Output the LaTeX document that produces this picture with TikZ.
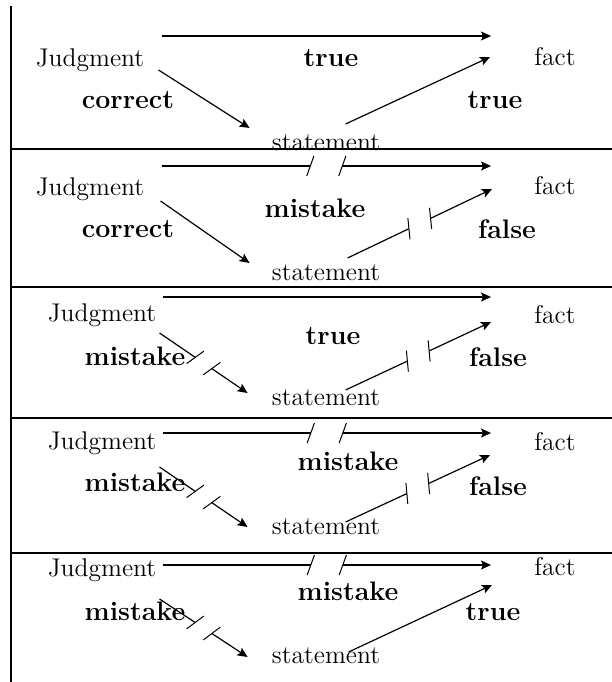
\documentclass[tikz,border=0pt]{standalone}
\usepackage{tikz}
\usetikzlibrary{arrows.meta, calc, decorations.markings}
\tikzstyle{word} = [inner sep=0pt, anchor=base, font=\fontsize{12.8}{15}\selectfont]
\tikzstyle{value} = [word, font=\fontsize{13.4}{15}\selectfont\bfseries]
\tikzstyle{arrow} = [line width=0.6pt, -{Stealth[length=5pt, width=4.5pt, inset=1pt]}]
\tikzstyle{rule} = [line width=0.6pt]
\tikzset{cut/.style={postaction={decorate}, decoration={markings, mark=at position 0.5 with {
  \fill [white] (-#1,-2pt) rectangle (#1,2pt);
  \draw [-, line width=0.5pt] (-#1-1.8pt,-5pt) -- (-#1+1.8pt,5pt);
  \draw [-, line width=0.5pt] (#1-1.8pt,-5pt) -- (#1+1.8pt,5pt);}}}}

\begin{document}
\begin{tikzpicture}[x=0.5pt, y=-0.5pt]
\useasboundingbox (0,0) rectangle (612,682);

% frame
\draw [rule] (11,6) -- (11,682);
\draw [rule] (11,149) -- (612,149);
\draw [rule] (11,287) -- (612,287);
\draw [rule] (11,418) -- (612,418);
\draw [rule] (11,553) -- (612,553);

% correct judgment, true statement
\node (j1) [word] at (90,66) {Judgment};
\node (v1) [value] at (331,66) {true};
\node (f1) [word] at (555,65) {fact};
\node (c1) [value] at (128,108) {correct};
\node (s1) [word] at (326,150) {statement};
\node (r1) [value] at (495,108) {true};

\draw [arrow] ($(j1.base east)+(17,-30)$) -- ($(f1.base west)+(-43,-29)$);
\draw [arrow] ($(j1.base east)+(14,4)$) -- ($(s1.base west)+(-22,-22)$);
\draw [arrow] ($(s1.base west)+(74,-26)$) -- ($(f1.base west)+(-44,-8)$);

% correct judgment, false statement
\node (j2) [word] at (90,195) {Judgment};
\node (v2) [value] at (315,217) {mistake};
\node (f2) [word] at (555,194) {fact};
\node (c2) [value] at (128,237) {correct};
\node (s2) [word] at (326,280) {statement};
\node (r2) [value] at (507,238) {false};

\draw [arrow, cut=8pt] ($(j2.base east)+(17,-29)$) -- ($(f2.base west)+(-43,-28)$);
\draw [arrow] ($(j2.base east)+(16,6)$) -- ($(s2.base west)+(-22,-17)$);
\draw [arrow, cut=6pt] ($(s2.base west)+(76,-22)$) -- ($(f2.base west)+(-42,-5)$);

% mistaken judgment, true relation
\node (j3) [word] at (102,321) {Judgment};
\node (v3) [value] at (333,344) {true};
\node (f3) [word] at (555,323) {fact};
\node (c3) [value] at (135,365) {mistake};
\node (s3) [word] at (326,405) {statement};
\node (r3) [value] at (498,366) {false};

\draw [arrow] ($(j3.base east)+(6,-24)$) -- ($(f3.base west)+(-43,-26)$);
\draw [arrow, cut=5pt] ($(j3.base east)+(3,12)$) -- ($(s3.base west)+(-24,-12)$);
\draw [arrow, cut=6pt] ($(s3.base west)+(74,-15)$) -- ($(f3.base west)+(-43,-1)$);

% mistaken judgment, false statement
\node (j4) [word] at (102,449) {Judgment};
\node (v4) [value] at (348,470) {mistake};
\node (f4) [word] at (555,450) {fact};
\node (c4) [value] at (135,491) {mistake};
\node (s4) [word] at (326,534) {statement};
\node (r4) [value] at (498,495) {false};

\draw [arrow, cut=8pt] ($(j4.base east)+(6,-16)$) -- ($(f4.base west)+(-43,-17)$);
\draw [arrow, cut=5pt] ($(j4.base east)+(3,18)$) -- ($(s4.base west)+(-24,-7)$);
\draw [arrow, cut=6pt] ($(s4.base west)+(74,-12)$) -- ($(f4.base west)+(-44,5)$);

% mistaken judgment, true statement
\node (j5) [word] at (102,576) {Judgment};
\node (v5) [value] at (348,600) {mistake};
\node (f5) [word] at (555,575) {fact};
\node (c5) [value] at (135,620) {mistake};
\node (s5) [word] at (326,663) {statement};
\node (r5) [value] at (493,620) {true};

\draw [arrow, cut=8pt] ($(j5.base east)+(6,-11)$) -- ($(f5.base west)+(-43,-10)$);
\draw [arrow, cut=5pt] ($(j5.base east)+(3,23)$) -- ($(s5.base west)+(-24,-6)$);
\draw [arrow] ($(s5.base west)+(77,-11)$) -- ($(f5.base west)+(-42,10)$);

\end{tikzpicture}
\end{document}
